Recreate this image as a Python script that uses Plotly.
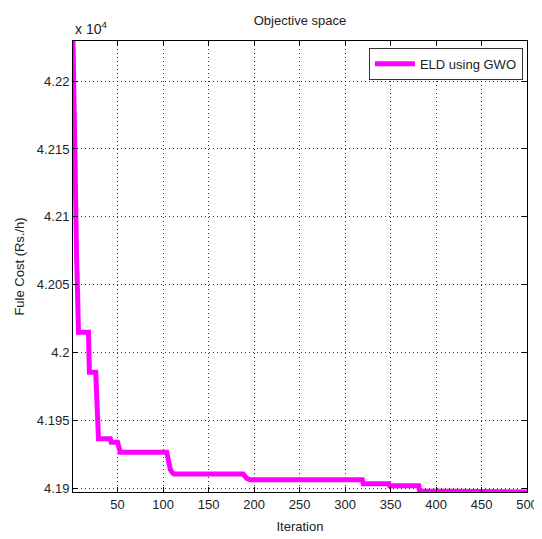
import plotly.graph_objects as go

# Convergence curve breakpoints (iteration, best fuel cost in Rs./h)
iterations = [1, 2, 3, 4, 5, 6, 7, 18, 19, 26, 27, 28, 29, 42, 43, 50, 51, 53,
              104, 106, 108, 110, 112, 188, 192, 196, 319, 320, 348, 349, 381,
              382, 430, 431, 500]
fuel_cost = [42229.5, 42172.5, 42117.5, 42095, 42068, 42045, 42015, 42015,
             41985.5, 41985.5, 41962, 41946, 41936.7, 41936.7, 41934, 41934,
             41930, 41926.6, 41926.6, 41920, 41914, 41911.8, 41910.6, 41910.6,
             41907.4, 41906.4, 41906.4, 41903.5, 41903.5, 41902, 41902,
             41898.2, 41898.2, 41897.4, 41897.4]

x_ticks = [50, 100, 150, 200, 250, 300, 350, 400, 450, 500]
y_tick_vals = [41900, 41950, 42000, 42050, 42100, 42150, 42200]
y_tick_text = ["4.19", "4.195", "4.2", "4.205", "4.21", "4.215", "4.22"]

series_name = "ELD using GWO"

fig = go.Figure()
fig.add_trace(go.Scatter(
    x=iterations, y=fuel_cost, mode="lines", name=series_name,
    line=dict(color="#FF00FF", width=5),
))

font = dict(family="Liberation Sans, Arial, sans-serif", size=13, color="#222222")

axis_common = dict(
    showline=True, linecolor="black", linewidth=1, mirror="ticks",
    ticks="inside", ticklen=5, tickcolor="black",
    showgrid=True, gridcolor="#333333", griddash="1px,3px", gridwidth=1,
    zeroline=False, tickfont=font, automargin=False,
)

# page body adds an 8px offset; size the figure so the plot box lands where the reference has it
fig.update_layout(
    width=534, height=531,
    margin=dict(l=65, r=15, t=33, b=47),
    paper_bgcolor="white", plot_bgcolor="white",
    font=font,
    title=dict(text="Objective space", x=0.5, xref="paper", xanchor="center",
               y=1, yref="paper", yanchor="bottom", pad=dict(b=16),
               font=dict(family="Liberation Sans, Arial, sans-serif", size=13, color="#222222")),
    showlegend=True,
    legend=dict(x=0.991, y=0.985, xanchor="right", yanchor="top",
                bordercolor="#333333", borderwidth=1, bgcolor="white",
                font=dict(family="Liberation Sans, Arial, sans-serif", size=13, color="#222222"),
                tracegroupgap=0, itemwidth=40),
    xaxis=dict(axis_common, range=[1, 500], tickvals=x_ticks,
               title=dict(text="Iteration", standoff=11, font=font)),
    yaxis=dict(axis_common, range=[min(fuel_cost), max(fuel_cost)],
               tickvals=y_tick_vals, ticktext=y_tick_text,
               title=dict(text="Fule Cost (Rs./h)", standoff=9, font=font)),
)

fig.add_annotation(text="x 10<sup>4</sup>", xref="paper", yref="paper",
                   x=0, y=1, xanchor="left", yanchor="bottom", showarrow=False,
                   yshift=2, font=dict(family="Liberation Sans, Arial, sans-serif", size=14, color="#222222"))

fig.write_html("out.html")
